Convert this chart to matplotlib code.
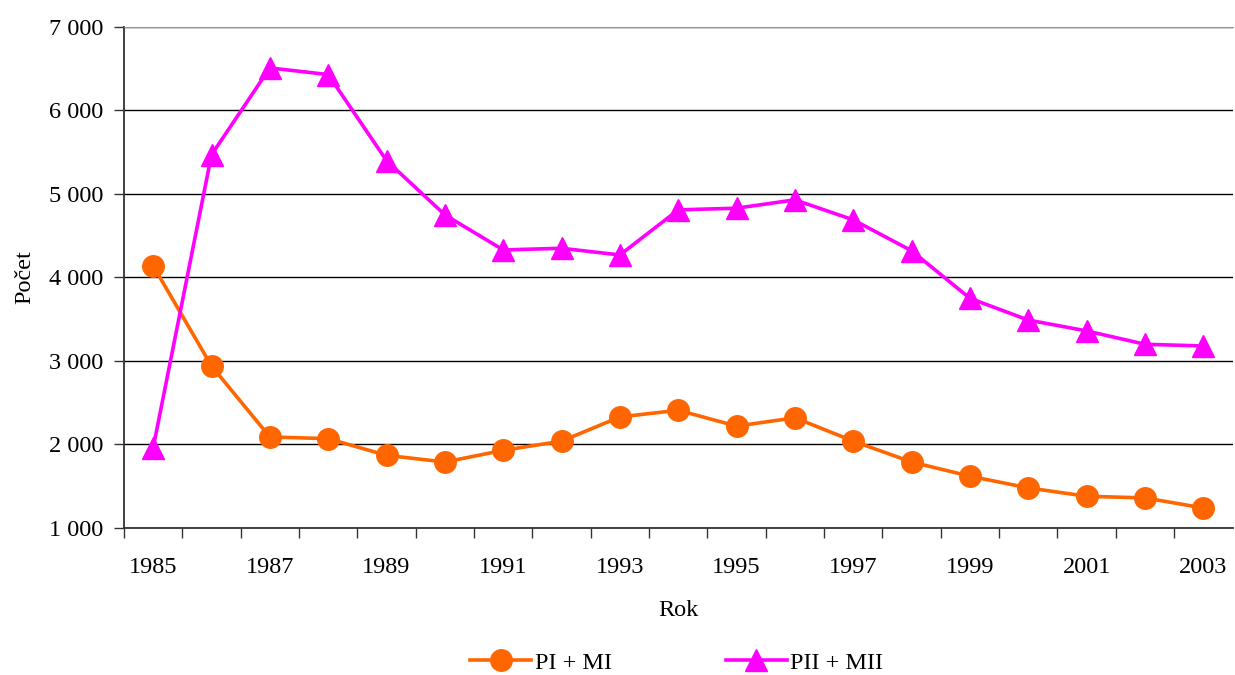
import matplotlib.pyplot as plt
from matplotlib.ticker import FuncFormatter, FixedLocator

plt.rcParams['font.family'] = ['Liberation Serif', 'DejaVu Serif']

years = list(range(1985, 2004))
pi_mi = [4140, 2940, 2090, 2070, 1870, 1790, 1930, 2040, 2330, 2410,
         2220, 2320, 2040, 1790, 1620, 1480, 1380, 1360, 1240]
pii_mii = [1960, 5470, 6510, 6430, 5400, 4750, 4330, 4350, 4270, 4810,
           4830, 4930, 4690, 4320, 3750, 3490, 3360, 3200, 3180]

fs = 17.5

fig = plt.figure(figsize=(12.35, 6.75), dpi=100)
ax = fig.add_axes([0.1004, 0.2178, 0.8976, 0.7422])

x = list(range(len(years)))
ax.plot(x, pi_mi, color='#FF6600', lw=2.6, marker='o', ms=15.5, label='PI + MI', zorder=3)
ax.plot(x, pii_mii, color='#FF00FF', lw=2.6, marker='^', ms=16, label='PII + MII', zorder=3)

ax.set_xlim(-0.5, len(years) - 0.5)
ax.set_ylim(1000, 7000)
ax.set_yticks(range(1000, 7001, 1000))
ax.yaxis.set_major_formatter(FuncFormatter(lambda v, p: f'{int(v):,}'.replace(',', ' ')))
ax.yaxis.grid(True, color='black', lw=1)
ax.set_axisbelow(True)

ax.set_xticks(x[::2])
ax.set_xticklabels([str(y) for y in years[::2]])
ax.tick_params(axis='x', which='major', length=0, pad=21, labelsize=fs)
ax.xaxis.set_minor_locator(FixedLocator([i - 0.5 for i in range(len(years))]))
ax.tick_params(axis='x', which='minor', length=7, width=1, color='#333333')
ax.tick_params(axis='y', length=7, width=1, color='#333333', labelsize=fs, pad=8)

ax.spines['right'].set_visible(False)
ax.spines['top'].set_color('#999999')
ax.spines['left'].set_color('#333333')
ax.spines['bottom'].set_color('#333333')
ax.spines['left'].set_linewidth(1.3)
ax.spines['bottom'].set_linewidth(1.3)

ax.set_xlabel('Rok', fontsize=fs, labelpad=16)
ax.set_ylabel('Počet', fontsize=fs, labelpad=10)

fig.legend(loc='center', bbox_to_anchor=(0.548, 0.018), ncol=2, frameon=False,
           fontsize=fs, handlelength=2.5, handletextpad=0.15, columnspacing=4.7)

fig.savefig('out.png', dpi=100)
